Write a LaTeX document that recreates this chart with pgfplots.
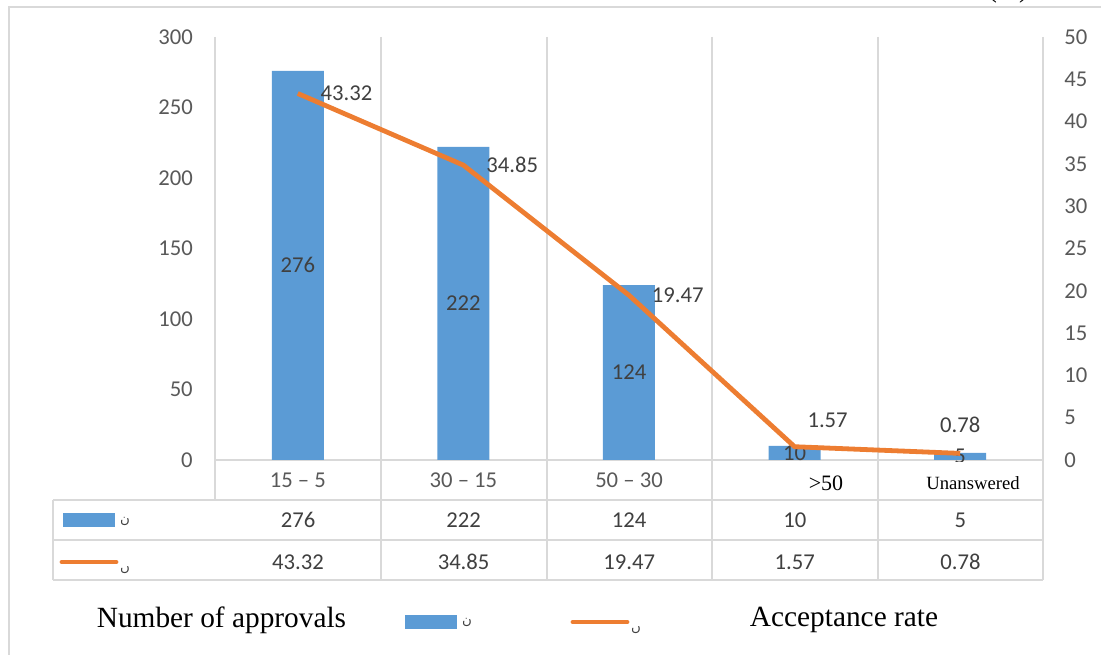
\documentclass[border=0pt]{standalone}
\usepackage{pgfplots}
\pgfplotsset{compat=1.18}
\usepackage{pgfplotstable}
\usepackage{fontspec}
\setmainfont{Carlito}
\newfontfamily\tnr{Liberation Serif}
\newfontfamily\arabicfont[Script=Arabic]{DejaVu Sans}
\TeXXeTstate=1
\definecolor{barblue}{HTML}{5B9BD5}
\definecolor{lineorange}{HTML}{ED7D31}
\definecolor{gridgray}{HTML}{D9D9D9}
\definecolor{txt}{HTML}{404040}
\definecolor{tickc}{HTML}{595959}

\pgfplotstableread{
x bars rate
0 276 43.32
1 222 34.85
2 124 19.47
3 10 1.57
4 5 0.78
}\datatable

\begin{document}
\begin{tikzpicture}
\useasboundingbox (0pt,0pt) rectangle (825.75pt,-491.25pt);
\fontsize{17}{20}\selectfont
\begin{scope}[x=0.75pt,y=-0.75pt]
% frame
\draw[gridgray, line width=1.5pt] (9,655) -- (9,7) -- (1101,7);
% grid and table lines
\foreach \gx in {381,547,712,878,1043} \draw[gridgray, line width=1.1pt] (\gx,37) -- (\gx,580);
\draw[gridgray,line width=1.1pt] (215,37) -- (215,500);
\draw[gridgray,line width=1.1pt] (215,460) -- (1043,460);
\foreach \gy in {500,540,580} \draw[gridgray,line width=1.1pt] (53,\gy) -- (1043,\gy);
\draw[gridgray,line width=1.1pt] (53,500) -- (53,580);
\end{scope}

\begin{axis}[at={(161.25pt,-345pt)}, anchor=south west, scale only axis,
  width=621pt, height=317.25pt,
  xmin=-0.5, xmax=4.5, ymin=0, ymax=300,
  axis line style={draw=none}, major tick length=0pt,
  ytick={0,50,...,300}, xtick=data,
  xticklabels={15 – 5,30 – 15,50 – 30,{},{}},
  /pgf/number format/assume math mode=true,
  tick label style={color=tickc, font=\fontsize{17}{20}\selectfont},
  yticklabel style={anchor=east, inner sep=0pt, xshift=-16.5pt},
  xticklabel style={anchor=base, inner sep=0pt, yshift=-21pt},
  clip=false]
\addplot[ybar, bar width=39pt, fill=barblue, draw=none] table[x=x,y=bars]{\datatable};
\addplot[draw=none, mark=none, nodes near coords, point meta=explicit symbolic,
  nodes near coords style={anchor=center, color=txt, font=\fontsize{17}{20}\selectfont}]
  table[x=x, y expr=\thisrow{bars}/2, meta=bars]{\datatable};
\end{axis}

\begin{axis}[at={(161.25pt,-345pt)}, anchor=south west, scale only axis,
  width=621pt, height=317.25pt,
  xmin=-0.5, xmax=4.5, ymin=0, ymax=50,
  axis y line*=right, axis x line=none,
  axis line style={draw=none}, major tick length=0pt,
  ytick={0,5,...,50},
  /pgf/number format/assume math mode=true,
  tick label style={color=tickc, font=\fontsize{17}{20}\selectfont},
  yticklabel style={anchor=west, inner sep=0pt, xshift=15.75pt},
  clip=false]
\addplot[lineorange, line width=3.6pt, line join=round, mark=none] table[x=x,y=rate]{\datatable};
\addplot[draw=none, mark=none, nodes near coords, point meta=explicit symbolic,
  nodes near coords style={anchor=west, inner sep=0pt, xshift=17pt, color=txt, font=\fontsize{17}{20}\selectfont}]
  coordinates {(0,43.32) [43.32] (1,34.85) [34.85] (2,19.47) [19.47]};
\addplot[draw=none, mark=none, nodes near coords, point meta=explicit symbolic,
  nodes near coords style={anchor=center, inner sep=0pt, xshift=24.75pt, yshift=19.5pt, color=txt, font=\fontsize{17}{20}\selectfont}]
  coordinates {(3,1.57) [1.57]};
\addplot[draw=none, mark=none, nodes near coords, point meta=explicit symbolic,
  nodes near coords style={anchor=center, inner sep=0pt, yshift=21.75pt, color=txt, font=\fontsize{17}{20}\selectfont}]
  coordinates {(4,0.78) [0.78]};
\end{axis}

\begin{scope}[x=0.75pt,y=-0.75pt]
% white boxes over last category labels
\fill[white] (762,462) rectangle (864,499);
\fill[white] (895,462) rectangle (1040,499);
\node[font=\tnr\fontsize{16.5}{18}\selectfont, text=black, inner sep=0pt, anchor=base] at (826,491) {>50};
\node[font=\tnr\fontsize{14}{16}\selectfont, text=black, inner sep=0pt, anchor=base] at (973,490) {Unanswered};

% table values
\foreach \v [count=\i from 0] in {276,222,124,10,5}
  \node[text=txt, inner sep=0pt, anchor=base] at ({298+165.6*\i},528) {\v};
\foreach \v [count=\i from 0] in {43.32,34.85,19.47,1.57,0.78}
  \node[text=txt, inner sep=0pt, anchor=base] at ({298+165.6*\i},570) {\v};

% table legend keys
\fill[barblue] (63,513) rectangle (115,527);
\draw[lineorange, line width=3.6pt, line cap=round] (62,562) -- (116,562);
\node[text=txt, inner sep=0pt, font=\arabicfont\fontsize{10}{12}\selectfont] at (125,521) {\beginR ن\endR};
\node[text=txt, inner sep=0pt, font=\arabicfont\fontsize{10}{12}\selectfont] at (125,570) {\beginR ں\endR};

% bottom legend
\node[font=\tnr\fontsize{22}{26}\selectfont, text=black, inner sep=0pt] at (221.5,620) {Number of approvals};
\fill[barblue] (405,615) rectangle (457,629);
\node[text=txt, inner sep=0pt, font=\arabicfont\fontsize{10}{12}\selectfont] at (467,622) {\beginR ن\endR};
\draw[lineorange, line width=3.6pt, line cap=round] (573,622) -- (627,622);
\node[text=txt, inner sep=0pt, font=\arabicfont\fontsize{10}{12}\selectfont] at (636,630) {\beginR ں\endR};
\node[font=\tnr\fontsize{22}{26}\selectfont, text=black, inner sep=0pt] at (844,620) {Acceptance rate};

% cut-off text at top right
\node[font=\tnr\fontsize{20}{24}\selectfont, text=black, inner sep=0pt, anchor=base] at (1008,-2) {(\%)};
\end{scope}
\end{tikzpicture}
\end{document}
